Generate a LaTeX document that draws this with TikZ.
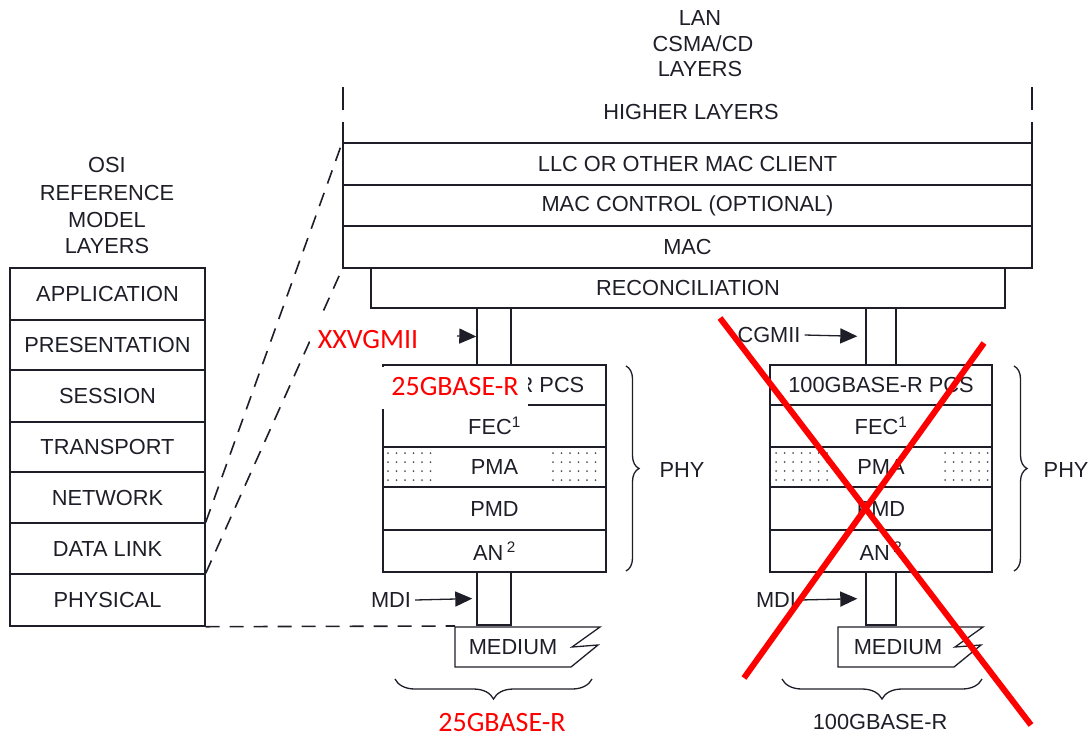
\documentclass[tikz,border=0pt]{standalone}
\usepackage{fontspec}
\setmainfont{Liberation Sans}
\newfontfamily\calfont{Carlito}
\usetikzlibrary{arrows.meta,decorations.pathreplacing}
\definecolor{ink}{HTML}{1E1E28}
\definecolor{xred}{HTML}{FF0000}
\definecolor{dotc}{HTML}{555555}
\begin{document}
\begin{tikzpicture}[x=1pt,y=-1pt,line width=1.4pt,color=ink,
  font=\fontsize{21.8}{26}\selectfont,
  osi/.style={draw,inner sep=0pt,minimum width=195pt},
  lanbox/.style={draw,inner sep=0pt,minimum width=689pt},
  phyL/.style={draw,inner sep=0pt,minimum width=223pt},
  phyR/.style={draw,inner sep=0pt,minimum width=222pt},
  bar/.style={draw,inner sep=0pt},
  dashline/.style={dash pattern=on 14pt off 10pt,line width=1.6pt},
  arr/.style={-{Triangle[length=17pt,width=15pt]},line width=1.3pt},
  bracedeco/.style={decorate,decoration={brace,amplitude=#1},line width=1.3pt},
  redlab/.style={text=xred,font=\calfont\fontsize{28}{32}\selectfont,inner sep=0pt},
  cross/.style={xred,line width=6pt}]
\useasboundingbox (0,0) rectangle (1089,737);

% ---------- OSI stack ----------
\node (osit1) at (107,165) {OSI};
\node (osit2) at (107,193) {REFERENCE};
\node (osit3) at (107,220) {MODEL};
\node (osit4) at (107,246) {LAYERS};
\node[osi,minimum height=52pt] (app)  at (107.5,294)   {APPLICATION};
\node[osi,minimum height=50pt] (pres) at (107.5,345)   {PRESENTATION};
\node[osi,minimum height=52pt] (sess) at (107.5,396)   {SESSION};
\node[osi,minimum height=50pt] (tran) at (107.5,447)   {TRANSPORT};
\node[osi,minimum height=51pt] (netw) at (107.5,497.5) {NETWORK};
\node[osi,minimum height=51pt] (dlink) at (107.5,548.5) {DATA LINK};
\node[osi,minimum height=52pt] (phys) at (107.5,600)   {PHYSICAL};

% ---------- LAN stack ----------
\node (lan1) at (700,18) {LAN};
\node (lan2) at (703,44) {CSMA/CD};
\node (lan3) at (700,69) {LAYERS};
\draw (343,87) -- (343,110);
\draw (343,122) -- (343,143);
\draw (1032,87) -- (1032,110);
\draw (1032,122) -- (1032,143);
\node (hl) at (691,112) {HIGHER LAYERS};
\node[lanbox,minimum height=42pt] (llc)  at (687.5,164)   {LLC OR OTHER MAC CLIENT};
\node[lanbox,minimum height=41pt] (macc) at (687.5,205.5) {MAC CONTROL (OPTIONAL)};
\node[lanbox,minimum height=42pt] (mac)  at (687.5,247)   {MAC};
\node[draw,inner sep=0pt,minimum width=634pt,minimum height=40pt] (rec) at (688,288) {RECONCILIATION};

% dashed mapping lines
\coordinate (mLtop) at (455,626);
\draw[dashline] (dlink.north east) -- (llc.north west);
\draw[dashline] (phys.north east) -- (mac.south west);
\draw[dashline] (phys.south east) -- (mLtop);

% ---------- left PHY (25GBASE-R) ----------
\node[bar,minimum width=34pt,minimum height=57pt] (barLu) at (494,336.5) {};
\node[phyL,minimum height=40pt] (pcsL) at (494.5,385)   {};
\node[anchor=east,inner sep=0pt] (pcsLt) at (585,385) {R PCS};
\node[phyL,minimum height=42pt] (fecL) at (494.5,426)   {FEC\textsuperscript{1}};
\node[phyL,minimum height=40pt] (pmaL) at (494.5,467)   {PMA};
\node[phyL,minimum height=43pt] (pmdL) at (494.5,508.5) {PMD};
\node[phyL,minimum height=42pt] (anL)  at (494.5,551)   {AN\,\textsuperscript{2}};
\node[bar,minimum width=34pt,minimum height=53pt] (barLd) at (494,598.5) {};
\foreach \x in {388,396.5,...,432} \foreach \y in {453,462,471,480} \fill[dotc] (\x,\y) circle (1pt);
\foreach \x in {553,561.5,...,603} \foreach \y in {453,462,471,480} \fill[dotc] (\x,\y) circle (1pt);
\draw[line width=1.3pt] (455,627) -- (600,627) -- (572,647) -- (598,645) -- (571,667) -- (455,667) -- cycle;
\node (medL) at (513,647) {MEDIUM};
\node (mdiL) at (391,600) {MDI};
\draw[arr,shorten >=4pt] (mdiL.east) -- (barLd.west);
\draw[bracedeco=13pt] (626,366) -- (626,571);
\node (phyLt) at (682,470) {PHY};
\draw[bracedeco=20pt] (592,679) -- (395,679);

% ---------- right PHY (100GBASE-R) ----------
\node[bar,minimum width=30pt,minimum height=57pt] (barRu) at (881,336.5) {};
\node[phyR,minimum height=40pt] (pcsR) at (881,385)   {100GBASE-R PCS};
\node[phyR,minimum height=42pt] (fecR) at (881,426)   {FEC\textsuperscript{1}};
\node[phyR,minimum height=40pt] (pmaR) at (881,467)   {PMA};
\node[phyR,minimum height=43pt] (pmdR) at (881,508.5) {PMD};
\node[phyR,minimum height=42pt] (anR)  at (881,551)   {AN\,\textsuperscript{2}};
\node[bar,minimum width=30pt,minimum height=53pt] (barRd) at (881,598.5) {};
\foreach \x in {776,784.5,...,828} \foreach \y in {453,462,471,480} \fill[dotc] (\x,\y) circle (1pt);
\foreach \x in {945,953.5,...,989} \foreach \y in {453,462,471,480} \fill[dotc] (\x,\y) circle (1pt);
\draw[line width=1.3pt] (838,627) -- (983,627) -- (955,647) -- (981,645) -- (954,667) -- (838,667) -- cycle;
\node (medR) at (898,647) {MEDIUM};
\node (mdiR) at (776,600) {MDI};
\draw[arr,shorten >=8pt] (mdiR.east) -- (barRd.west);
\node (cgmii) at (769,335) {CGMII};
\draw[arr,shorten >=8pt] (cgmii.east) -- (barRu.west);
\draw[bracedeco=13pt] (1014,366) -- (1014,571);
\node[anchor=west,inner sep=0pt] (phyRt) at (1043,470) {PHY};
\draw[bracedeco=20pt] (982,679) -- (782,679);
\node (g100) at (880,722) {100GBASE-R};

% ---------- red overlays ----------
\fill[white] (310,317) rectangle (457,362);
\node[redlab] (xxv) at (368,340) {XXVGMII};
\coordinate (xxvE) at (457,336);
\draw[arr] (xxvE) -- (barLu.west);
\fill[white] (381,367) rectangle (528,409);
\node[redlab] (g25a) at (455,387) {25GBASE-R};
\node[redlab] (g25b) at (502,722) {25GBASE-R};

\draw[cross] (720,318) -- (1031,725);
\draw[cross] (984,343) -- (744,678);
\end{tikzpicture}
\end{document}
